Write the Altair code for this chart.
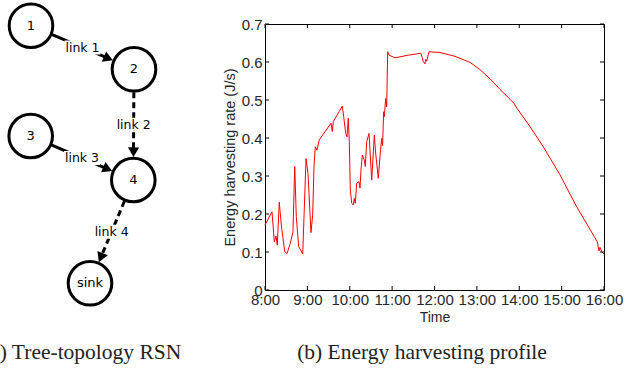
import math
import altair as alt
import pandas as pd

# ---------------- data: energy harvesting profile ----------------
# minutes after 8:00 and harvesting rate (J/s)
minutes = [0, 9.9, 13.2, 15.6, 17.4, 20.2, 23.1, 27.9, 31.2, 35.8, 39.6, 42.1, 44.3, 47.7,
           53.4, 58.1, 60.9, 65.1, 67.5, 69.4, 71.2, 73.6, 76.9, 93.5, 95.3, 96.7, 109.5,
           111.4, 114.3, 116.1, 117.9, 119.4, 120.8, 122.8, 125, 126.4, 127.9, 129.8, 133.1,
           134.5, 135.9, 137.8, 140.6, 142, 144, 147.3, 151.1, 154.8, 156.7, 160.4, 162.8,
           165.2, 166.5, 168, 168.9, 170.9, 172.3, 173.7, 175.6, 184.1, 202.9, 220.9, 222.5,
           224.1, 226.5, 227.5, 228.9, 232.2, 247.8, 269, 290.3, 304.4, 318.6, 332.7,
           339.8, 346.9, 352.6, 356.9, 375.2, 394, 417.7, 441.3, 470.5, 472.9, 474.3,
           476.7, 480]
rate = [0.171, 0.206, 0.127, 0.142, 0.118, 0.231, 0.171, 0.101, 0.096, 0.123, 0.153, 0.325,
        0.193, 0.114, 0.095, 0.346, 0.307, 0.151, 0.197, 0.325, 0.377, 0.368, 0.395, 0.439,
        0.417, 0.443, 0.484, 0.456, 0.412, 0.403, 0.452, 0.39, 0.263, 0.228, 0.224, 0.241,
        0.228, 0.281, 0.285, 0.268, 0.316, 0.355, 0.342, 0.325, 0.39, 0.412, 0.289, 0.408,
        0.36, 0.294, 0.351, 0.399, 0.38, 0.469, 0.456, 0.504, 0.482, 0.627, 0.618, 0.611,
        0.618, 0.623, 0.612, 0.601, 0.595, 0.607, 0.602, 0.627, 0.625, 0.615, 0.599, 0.58,
        0.556, 0.528, 0.515, 0.502, 0.491, 0.478, 0.43, 0.377, 0.303, 0.219, 0.127,
        0.103, 0.112, 0.101, 0.094]

x_ticks = [8, 9, 10, 11, 12, 13, 14, 15, 16]
y_ticks = [0, 0.1, 0.2, 0.3, 0.4, 0.5, 0.6, 0.7]

# ---------------- data: tree topology diagram ----------------
node_names = ["1", "2", "3", "4", "sink"]
node_x = [31, 134, 30.7, 133.3, 90]
node_y = [25.7, 69.3, 136, 180, 283.3]
link_names = ["link 1", "link 2", "link 3", "link 4"]
link_src = [0, 1, 2, 3]
link_dst = [1, 3, 3, 4]
link_dashed = [False, True, False, True]

captions = ["(a) Tree-topology RSN", "(b) Energy harvesting profile"]

# ---------------- layout ----------------
W, H = 339, 266
PAD = {"left": 265, "top": 24, "right": 21, "bottom": 83}
R_NODE = 23.0
ARROW_H = 4.8

FONT = "Liberation Sans"
TXT = "#262626"

line_df = pd.DataFrame({"hour": [8 + m / 60 for m in minutes], "rate": rate})
xs = alt.Scale(domain=[8, 16], nice=False, zero=False)
ys = alt.Scale(domain=[0, 0.7], nice=False, zero=True)

line = alt.Chart(line_df).mark_line(color="#ff0000", strokeWidth=1).encode(
    x=alt.X("hour:Q", scale=xs, axis=alt.Axis(
        values=x_ticks, labelExpr="datum.value + ':00'", title="Time",
        ticks=False, domain=False, grid=False, labelPadding=2, titlePadding=3,
        labelFontSize=15, titleFontSize=14, labelFont=FONT, titleFont=FONT,
        labelColor=TXT, titleColor=TXT, titleFontWeight="normal",
        labelFlush=False, labelOverlap=False)),
    y=alt.Y("rate:Q", scale=ys, axis=alt.Axis(
        values=y_ticks,
        labelExpr="datum.value == 0 ? '0' : format(datum.value, '.1f')",
        title="Energy harvesting rate (J/s)",
        ticks=False, domain=False, grid=False, labelPadding=3, titlePadding=4,
        labelFontSize=15, titleFontSize=14.5, labelFont=FONT, titleFont=FONT,
        labelColor=TXT, titleColor=TXT, titleFontWeight="normal",
        labelFlush=False, labelOverlap=False)),
)

xt_df = pd.DataFrame({"hour": x_ticks})
yt_df = pd.DataFrame({"rate": y_ticks})
tick_style = dict(color="black", strokeWidth=1)
xtick_b = alt.Chart(xt_df).mark_rule(**tick_style).encode(
    x=alt.X("hour:Q", scale=xs, axis=None), y=alt.value(H), y2=alt.value(H - 4))
xtick_t = alt.Chart(xt_df).mark_rule(**tick_style).encode(
    x=alt.X("hour:Q", scale=xs, axis=None), y=alt.value(0), y2=alt.value(4))
ytick_l = alt.Chart(yt_df).mark_rule(**tick_style).encode(
    y=alt.Y("rate:Q", scale=ys, axis=None), x=alt.value(0), x2=alt.value(4))
ytick_r = alt.Chart(yt_df).mark_rule(**tick_style).encode(
    y=alt.Y("rate:Q", scale=ys, axis=None), x=alt.value(W), x2=alt.value(W - 4))

# ---------------- diagram ----------------
# diagram scales map diagram units onto page pixels
dxs = alt.Scale(domain=[PAD["left"], PAD["left"] + W], nice=False, zero=False)
dys = alt.Scale(domain=[PAD["top"], PAD["top"] + H], reverse=True, nice=False, zero=False)

nodes_df = pd.DataFrame({"name": node_names, "x": node_x, "y": node_y})

rows = []
for name, s, d, dashed in zip(link_names, link_src, link_dst, link_dashed):
    x0, y0, x1, y1 = node_x[s], node_y[s], node_x[d], node_y[d]
    L = math.hypot(x1 - x0, y1 - y0)
    ux, uy = (x1 - x0) / L, (y1 - y0) / L
    sx, sy = x0 + ux * R_NODE, y0 + uy * R_NODE
    tx, ty = x1 - ux * R_NODE, y1 - uy * R_NODE
    ax, ay = tx - ux * ARROW_H, ty - uy * ARROW_H
    rows.append(dict(name=name, dashed=dashed, sx=sx, sy=sy, ex=ax, ey=ay,
                     ax=ax, ay=ay, angle=math.degrees(math.atan2(ux, -uy)) % 360,
                     mx=(sx + tx) / 2, my=(sy + ty) / 2,
                     bx0=(sx + tx) / 2 - 18, bx1=(sx + tx) / 2 + 18,
                     by0=(sy + ty) / 2 - 7, by1=(sy + ty) / 2 + 7))
links_df = pd.DataFrame(rows)

def dX(f):
    return alt.X(f, scale=dxs, axis=None)

def dY(f):
    return alt.Y(f, scale=dys, axis=None)

solid_links = alt.Chart(links_df).transform_filter("!datum.dashed").mark_rule(
    color="black", strokeWidth=3).encode(
    x=dX("sx:Q"), y=dY("sy:Q"), x2="ex:Q", y2="ey:Q")
dashed_links = alt.Chart(links_df).transform_filter("datum.dashed").mark_rule(
    color="black", strokeWidth=3, strokeDash=[6, 4]).encode(
    x=dX("sx:Q"), y=dY("sy:Q"), x2="ex:Q", y2="ey:Q")
label_boxes = alt.Chart(links_df).mark_rect(fill="white", stroke=None).encode(
    x=dX("bx0:Q"), x2="bx1:Q", y=dY("by0:Q"), y2="by1:Q")
link_labels = alt.Chart(links_df).mark_text(
    font="DejaVu Sans", fontSize=12.5, color="black", align="center", baseline="middle"
).encode(x=dX("mx:Q"), y=dY("my:Q"), text="name:N")
arrows = alt.Chart(links_df).mark_point(
    shape="triangle-up", filled=True, size=125, color="black", opacity=1).encode(
    x=dX("ax:Q"), y=dY("ay:Q"), angle=alt.Angle("angle:Q", scale=None))
circles = alt.Chart(nodes_df).mark_point(
    shape="circle", filled=False, size=1900, strokeWidth=3, color="black", opacity=1
).encode(x=dX("x:Q"), y=dY("y:Q"))
node_text = alt.Chart(nodes_df).mark_text(
    font="DejaVu Sans", fontSize=13, color="black", align="center", baseline="middle"
).encode(x=dX("x:Q"), y=dY("y:Q"), text="name:N")

# caption (a) runs off the left page edge, as in the reference
cap_a = alt.Chart(pd.DataFrame({"c": [captions[0]]})).mark_text(
    font="Liberation Serif", fontSize=21.5, color="#222", align="left", baseline="alphabetic"
).encode(x=alt.value(-282), y=alt.value(335), text="c:N")
cap_b = alt.Chart(pd.DataFrame({"c": [captions[1]]})).mark_text(
    font="Liberation Serif", fontSize=21.5, color="#222", align="center", baseline="alphabetic"
).encode(x=alt.value(157), y=alt.value(335), text="c:N")

chart = alt.layer(
    line, xtick_b, xtick_t, ytick_l, ytick_r,
    solid_links, dashed_links, label_boxes, link_labels, arrows, circles, node_text,
    cap_a, cap_b,
).resolve_scale(x="independent", y="independent").properties(
    width=W, height=H,
    autosize=alt.AutoSizeParams(type="none"),
    padding=PAD,
    background="white",
).configure_view(stroke="black", strokeWidth=1)

chart.save("out.html", embed_options={"renderer": "svg", "actions": False})
